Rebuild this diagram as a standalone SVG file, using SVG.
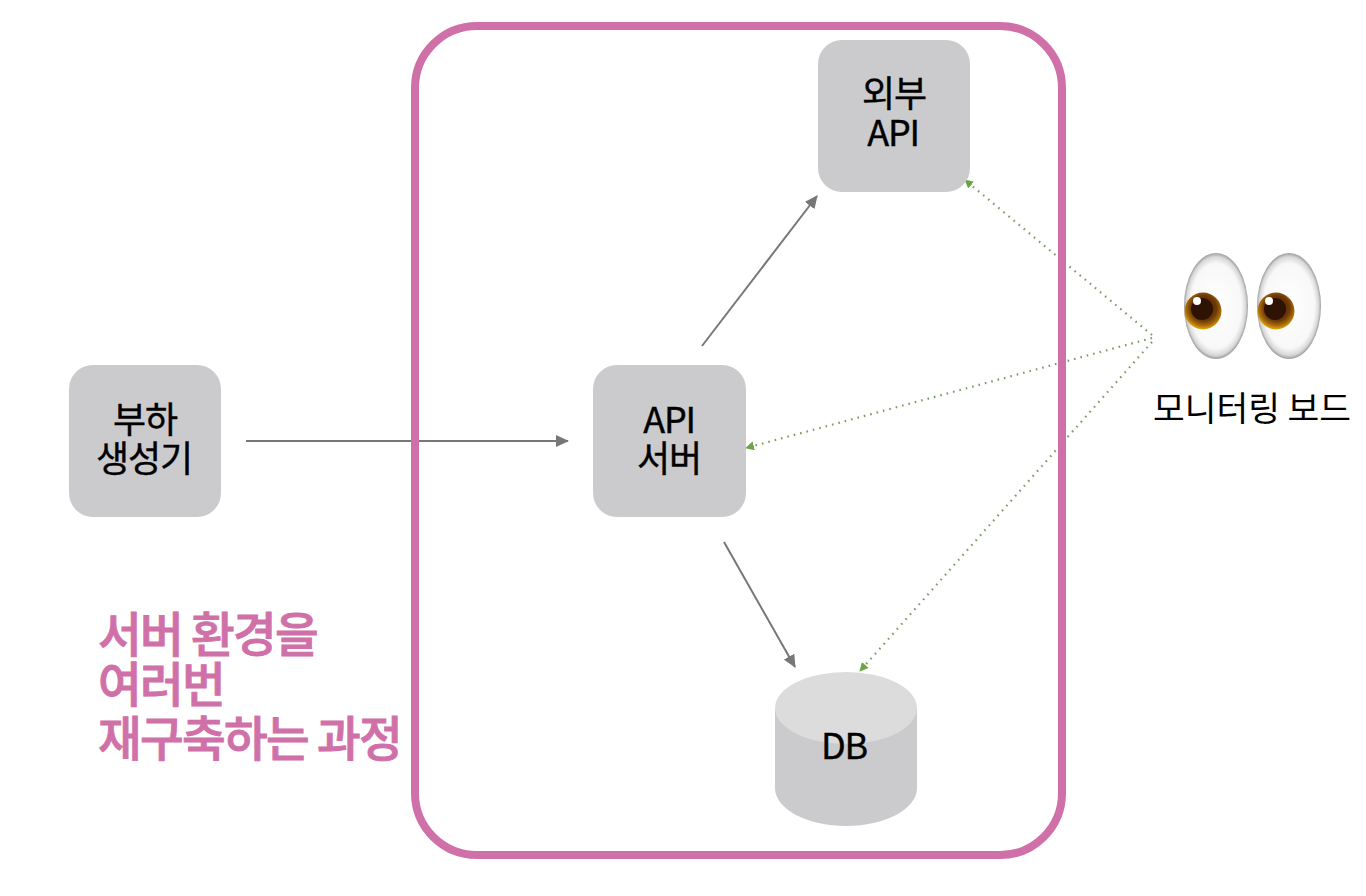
<svg xmlns="http://www.w3.org/2000/svg" width="1366" height="896" viewBox="0 0 1366 896">
<style>
.box{fill:#cbcbcd}
.lbl{font-family:"Noto Sans CJK KR","Noto Sans",sans-serif;font-size:36px;font-weight:400;fill:#000;stroke:#000;stroke-width:.4;text-anchor:middle;letter-spacing:-1.2px}
.pink{font-family:"Noto Sans CJK KR","Noto Sans",sans-serif;font-size:47.5px;font-weight:500;fill:#d070a8;stroke:#d070a8;stroke-width:.9;letter-spacing:-1.7px}
.g{stroke:#777;stroke-width:2;fill:none;marker-end:url(#ga)}
.d{stroke:#7f9a66;stroke-width:2.2;fill:none;stroke-dasharray:1.6 5;marker-end:url(#da)}
</style>
<defs>
<marker id="ga" markerUnits="userSpaceOnUse" markerWidth="14" markerHeight="12" refX="12" refY="6" orient="auto"><path d="M0 0L13 6L0 12Z" fill="#777"/></marker>
<marker id="da" markerUnits="userSpaceOnUse" markerWidth="10" markerHeight="10" refX="8" refY="4.5" orient="auto"><path d="M0 0L9 4.5L0 9Z" fill="#6aa648"/></marker>
<radialGradient id="w" cx="50%" cy="50%" r="50%"><stop offset="0" stop-color="#fff"/><stop offset=".8" stop-color="#f8f8f8"/><stop offset=".93" stop-color="#d8d8d8"/><stop offset="1" stop-color="#9c9c9c"/></radialGradient>
<radialGradient id="iris" cx="52%" cy="42%" r="58%"><stop offset="0" stop-color="#3a1a05"/><stop offset=".6" stop-color="#6e3a08"/><stop offset=".82" stop-color="#a86c08"/><stop offset="1" stop-color="#e0ac14"/></radialGradient>
</defs>
<rect width="1366" height="896" fill="#fff"/>
<g id="connectors">
<path class="g" d="M246 441H568"/>
<path class="g" d="M702 346L817 196"/>
<path class="g" d="M724 542L795 667"/>
<path class="d" d="M1152 335L965 180"/>
<path class="d" d="M1152 338L746 448"/>
<path class="d" d="M1152 342L860 671"/>
</g>
<g id="frame"><rect x="415" y="26" width="647" height="829" rx="62" fill="none" stroke="#d070a8" stroke-width="8"/></g>
<g id="n-load"><rect class="box" x="69" y="365" width="152" height="152" rx="24"/><text class="lbl" x="145" y="433">부하</text><text class="lbl" x="144" y="472">생성기</text></g>
<g id="n-api"><rect class="box" x="593" y="365" width="153" height="152" rx="24"/><text class="lbl" x="669" y="433">API</text><text class="lbl" x="669" y="472">서버</text></g>
<g id="n-ext"><rect class="box" x="818" y="40" width="152" height="152" rx="24"/><text class="lbl" x="894" y="107">외부</text><text class="lbl" x="893" y="146">API</text></g>
<g id="n-db">
<path class="box" d="M775 708V788C775 809 807 826 846 826S917 809 917 788V708Z"/>
<ellipse cx="846" cy="708" rx="71" ry="36" fill="#dcdcdd"/>
<text class="lbl" x="844" y="759">DB</text>
</g>
<g id="n-monitor">
<ellipse cx="1216" cy="306" rx="32" ry="53" fill="url(#w)"/>
<ellipse cx="1289" cy="306" rx="32" ry="53" fill="url(#w)"/>
<circle cx="1203" cy="311" r="18.5" fill="url(#iris)"/><circle cx="1202" cy="309" r="11" fill="#2e1204"/><circle cx="1197" cy="301" r="4" fill="#fff"/>
<circle cx="1276" cy="311" r="18.5" fill="url(#iris)"/><circle cx="1275" cy="309" r="11" fill="#2e1204"/><circle cx="1269" cy="301" r="4" fill="#fff"/>
<text x="1252" y="421" font-family="'Noto Sans CJK KR','Noto Sans',sans-serif" font-size="34.5" fill="#000" text-anchor="middle" letter-spacing="0">모니터링 보드</text>
</g>
<g id="caption">
<text class="pink" x="98" y="652">서버 환경을</text>
<text class="pink" x="98" y="702">여러번</text>
<text class="pink" x="98" y="756">재구축하는 과정</text>
</g>
</svg>
